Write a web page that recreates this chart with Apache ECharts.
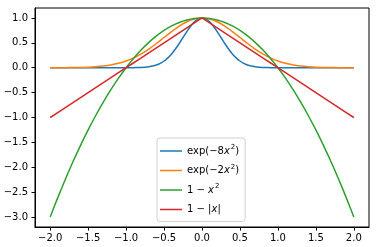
<!DOCTYPE html>
<html><head><meta charset="utf-8">
<script src="https://cdn.jsdelivr.net/npm/echarts@6/dist/echarts.min.js"></script>
<style>html,body{margin:0;padding:0;background:#fff}#c{width:382px;height:247px}</style>
</head><body><div id="c"></div>
<script>
// Shared x grid (step 0.1) for the smoother curves
const xCoarse = [-2.0,-1.9,-1.8,-1.7,-1.6,-1.5,-1.4,-1.3,-1.2,-1.1,-1.0,-0.9,-0.8,-0.7,-0.6,-0.5,-0.4,-0.3,-0.2,-0.1,0.0,0.1,0.2,0.3,0.4,0.5,0.6,0.7,0.8,0.9,1.0,1.1,1.2,1.3,1.4,1.5,1.6,1.7,1.8,1.9,2.0];
// exp(-2x^2)
const orangeY = [0.0003,0.0007,0.0015,0.003,0.006,0.011,0.020,0.034,0.056,0.089,0.135,0.198,0.278,0.375,0.487,0.607,0.726,0.835,0.923,0.980,1.0,0.980,0.923,0.835,0.726,0.607,0.487,0.375,0.278,0.198,0.135,0.089,0.056,0.034,0.020,0.011,0.006,0.003,0.0015,0.0007,0.0003];
// 1 - x^2
const greenY = [-3.0,-2.61,-2.24,-1.89,-1.56,-1.25,-0.96,-0.69,-0.44,-0.21,0.0,0.19,0.36,0.51,0.64,0.75,0.84,0.91,0.96,0.99,1.0,0.99,0.96,0.91,0.84,0.75,0.64,0.51,0.36,0.19,0.0,-0.21,-0.44,-0.69,-0.96,-1.25,-1.56,-1.89,-2.24,-2.61,-3.0];
// 1 - |x|
const redY = [-1.0,-0.9,-0.8,-0.7,-0.6,-0.5,-0.4,-0.3,-0.2,-0.1,0.0,0.1,0.2,0.3,0.4,0.5,0.6,0.7,0.8,0.9,1.0,0.9,0.8,0.7,0.6,0.5,0.4,0.3,0.2,0.1,0.0,-0.1,-0.2,-0.3,-0.4,-0.5,-0.6,-0.7,-0.8,-0.9,-1.0];
// exp(-8x^2) on a finer grid near the peak
const blueX = [-2.0,-1.5,-1.2,-1.0,-0.95,-0.9,-0.85,-0.8,-0.75,-0.7,-0.65,-0.6,-0.55,-0.5,-0.45,-0.4,-0.35,-0.3,-0.25,-0.2,-0.15,-0.1,-0.05,0.0,0.05,0.1,0.15,0.2,0.25,0.3,0.35,0.4,0.45,0.5,0.55,0.6,0.65,0.7,0.75,0.8,0.85,0.9,0.95,1.0,1.2,1.5,2.0];
const blueY = [0,0,0,0.0003,0.0007,0.0015,0.003,0.006,0.011,0.020,0.034,0.056,0.089,0.135,0.198,0.278,0.375,0.487,0.607,0.726,0.835,0.923,0.980,1.0,0.980,0.923,0.835,0.726,0.607,0.487,0.375,0.278,0.198,0.135,0.089,0.056,0.034,0.020,0.011,0.006,0.003,0.0015,0.0007,0.0003,0,0,0];

const seriesNames = ['exp8','exp2','par','abs'];
const legendLabels = {
  exp8: '{n|exp(−8}{i|x}{s|2}{n|)}',
  exp2: '{n|exp(−2}{i|x}{s|2}{n|)}',
  par: '{n|1 − }{i|x}{s|2}',
  abs: '{n|1 − |}{i|x}{n||}'
};
const xTicks = [-2.0,-1.5,-1.0,-0.5,0.0,0.5,1.0,1.5,2.0];
const yTicks = [-3.0,-2.5,-2.0,-1.5,-1.0,-0.5,0.0,0.5,1.0];
const colors = ['#1f77b4','#ff7f0e','#2ca02c','#d62728'];

const zip = (xs, ys) => xs.map((x, i) => [x, ys[i]]);
const fmt = v => (v < 0 ? '−' : '') + Math.abs(v).toFixed(1);

const chart = echarts.init(document.getElementById('c'), null, {renderer: 'canvas'});
const axisCommon = {
  type: 'value',
  axisLine: {show: true, onZero: false, lineStyle: {color: '#000', width: 1}},
  axisTick: {show: true, inside: false, length: 3.5, lineStyle: {color: '#000', width: 1}},
  splitLine: {show: false},
};
chart.setOption({
  animation: false,
  color: colors,
  grid: {left: 35, top: 8, right: 13, bottom: 20, show: true, borderColor: '#000', borderWidth: 1, backgroundColor: 'transparent'},
  xAxis: Object.assign({}, axisCommon, {
    min: -2.2, max: 2.2,
    axisTick: Object.assign({}, axisCommon.axisTick, {customValues: xTicks}),
    axisLabel: {customValues: xTicks, formatter: fmt, color: '#000', fontSize: 10, fontFamily: 'DejaVu Sans', margin: 6}
  }),
  yAxis: Object.assign({}, axisCommon, {
    min: -3.2, max: 1.2,
    axisTick: Object.assign({}, axisCommon.axisTick, {customValues: yTicks}),
    axisLabel: {customValues: yTicks, formatter: fmt, color: '#000', fontSize: 10, fontFamily: 'DejaVu Sans', margin: 7}
  }),
  legend: {
    orient: 'vertical', left: 157, top: 138,
    padding: [6, 6, 5, 3],
    borderColor: '#d0d0d0', borderWidth: 1, borderRadius: 3,
    backgroundColor: 'rgba(255,255,255,0.8)',
    icon: 'rect', itemWidth: 22, itemHeight: 1.5, itemGap: 5.5, itemTextGap: 8,
    data: seriesNames,
    formatter: name => legendLabels[name],
    textStyle: {
      fontFamily: 'DejaVu Sans', fontSize: 10, color: '#000', lineHeight: 14,
      rich: {
        n: {fontFamily: 'DejaVu Sans', fontSize: 10, color: '#000'},
        i: {fontFamily: 'DejaVu Sans', fontStyle: 'italic', fontSize: 10, color: '#000'},
        s: {fontFamily: 'DejaVu Sans', fontSize: 7, color: '#000', verticalAlign: 'top', padding: [0, 0, 0, 1]}
      }
    }
  },
  series: [
    {name: 'exp8', type: 'line', data: zip(blueX, blueY), showSymbol: false, smooth: 0.3, lineStyle: {width: 1.5}},
    {name: 'exp2', type: 'line', data: zip(xCoarse, orangeY), showSymbol: false, smooth: 0.3, lineStyle: {width: 1.5}},
    {name: 'par', type: 'line', data: zip(xCoarse, greenY), showSymbol: false, smooth: 0.3, lineStyle: {width: 1.5}},
    {name: 'abs', type: 'line', data: zip(xCoarse, redY), showSymbol: false, lineStyle: {width: 1.5}}
  ]
});
</script></body></html>
